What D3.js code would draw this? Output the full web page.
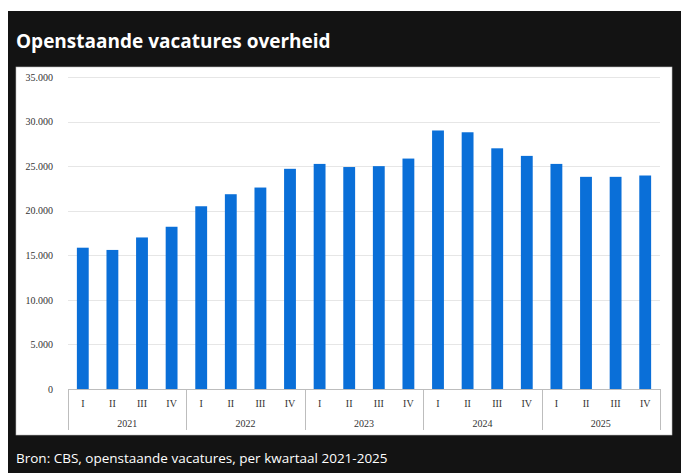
<!DOCTYPE html>
<html>
<head>
<meta charset="utf-8">
<script src="https://cdn.jsdelivr.net/npm/d3@7"></script>
<style>
  body { margin: 0; background: white; }
</style>
</head>
<body>
<div id="chart"></div>
<script>
// data
var years = ["2021", "2022", "2023", "2024", "2025"];
var quarters = ["I", "II", "III", "IV"];
var vacatures = [
  15850, 15600, 17000, 18200,
  20500, 21850, 22600, 24700,
  25250, 24900, 25000, 25850,
  29000, 28800, 27000, 26150,
  25250, 23800, 23800, 23950
];
var yTicks = [0, 5000, 10000, 15000, 20000, 25000, 30000, 35000];

var W = 681, H = 473;
var svg = d3.select("#chart").append("svg")
  .attr("width", W).attr("height", H);

// black frame
svg.append("rect").attr("x", 8).attr("y", 11).attr("width", W - 8).attr("height", H - 11)
  .attr("fill", "#131313");

// white panel
svg.append("rect").attr("x", 16).attr("y", 67).attr("width", 656).attr("height", 368)
  .attr("fill", "white").attr("stroke", "#bbb").attr("stroke-width", 0.6);

svg.append("text")
  .attr("x", 16).attr("y", 48)
  .attr("fill", "white")
  .style("font-family", "'Open Sans', sans-serif")
  .style("font-weight", "bold")
  .style("font-size", "19px")
  .text("Openstaande vacatures overheid");

svg.append("text")
  .attr("x", 16).attr("y", 463)
  .attr("fill", "white")
  .style("font-family", "'Open Sans', sans-serif")
  .style("font-size", "13.5px")
  .text("Bron: CBS, openstaande vacatures, per kwartaal 2021-2025");

// plot area
var plotLeft = 68, plotRight = 660, plotTop = 77, plotBottom = 389;

var data = [];
years.forEach(function (yr, i) {
  quarters.forEach(function (q, j) {
    data.push({ key: yr + "-" + q, year: yr, q: q, value: vacatures[i * 4 + j] });
  });
});

var x = d3.scaleBand().domain(data.map(function (d) { return d.key; }))
  .range([plotLeft, plotRight]).paddingInner(0.6).paddingOuter(0.3);
var y = d3.scaleLinear().domain([0, 35000]).range([plotBottom, plotTop]);

var fmt = function (v) { return v === 0 ? "0" : d3.format(",")(v).replace(",", "."); };

// gridlines
svg.append("g").selectAll("line").data(yTicks.filter(function (t) { return t > 0; }))
  .enter().append("line")
  .attr("x1", plotLeft).attr("x2", plotRight)
  .attr("y1", function (d) { return Math.round(y(d)) + 0.5; })
  .attr("y2", function (d) { return Math.round(y(d)) + 0.5; })
  .attr("stroke", "#e6e6e6").attr("stroke-width", 1);

// y axis labels
var yAxis = svg.append("g")
  .attr("transform", "translate(" + (plotLeft - 12) + ",0)")
  .call(d3.axisLeft(y).tickValues(yTicks).tickSize(0).tickFormat(fmt));
yAxis.select(".domain").remove();
yAxis.selectAll("text")
  .style("font-family", "'Liberation Serif', serif")
  .style("font-size", "10px")
  .attr("fill", "#333");

// bars
svg.append("g").selectAll("rect").data(data).enter().append("rect")
  .attr("x", function (d) { return x(d.key); })
  .attr("width", x.bandwidth())
  .attr("y", function (d) { return y(d.value); })
  .attr("height", function (d) { return y(0) - y(d.value); })
  .attr("fill", "#0a6fd8");

// x axis: baseline and year separators
var step = x.step();
var axisG = svg.append("g").attr("stroke", "#bdbdbd").attr("stroke-width", 1);
axisG.append("line").attr("x1", plotLeft).attr("x2", plotRight)
  .attr("y1", plotBottom + 0.5).attr("y2", plotBottom + 0.5);
var seps = d3.range(0, years.length + 1);
axisG.selectAll("line.sep").data(seps).enter().append("line")
  .attr("class", "sep")
  .attr("x1", function (i) { return Math.round(plotLeft + i * 4 * step) + 0.5; })
  .attr("x2", function (i) { return Math.round(plotLeft + i * 4 * step) + 0.5; })
  .attr("y1", plotBottom).attr("y2", 430);

// quarter labels
svg.append("g").selectAll("text").data(data).enter().append("text")
  .attr("x", function (d) { return x(d.key) + x.bandwidth() / 2; })
  .attr("y", 407)
  .attr("text-anchor", "middle")
  .style("font-family", "'Liberation Serif', serif")
  .style("font-size", "10px")
  .attr("fill", "#333")
  .text(function (d) { return d.q; });

// year labels
svg.append("g").selectAll("text").data(years).enter().append("text")
  .attr("x", function (d, i) { return plotLeft + (i * 4 + 2) * step; })
  .attr("y", 427)
  .attr("text-anchor", "middle")
  .style("font-family", "'Liberation Serif', serif")
  .style("font-size", "10px")
  .attr("fill", "#333")
  .text(function (d) { return d; });
</script>
</body>
</html>
